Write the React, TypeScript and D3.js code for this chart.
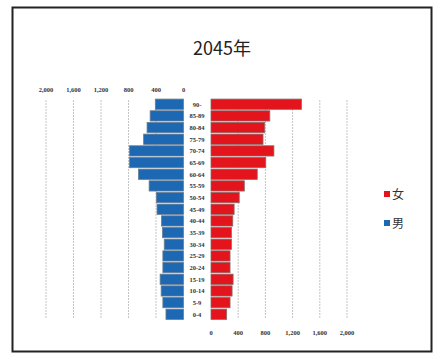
import React from "react";
import * as d3 from "d3";

const ages = ["90-", "85-89", "80-84", "75-79", "70-74", "65-69", "60-64", "55-59", "50-54", "45-49", "40-44", "35-39", "30-34", "25-29", "20-24", "15-19", "10-14", "5-9", "0-4"];
const male = [410, 485, 530, 580, 785, 785, 655, 500, 395, 385, 320, 305, 280, 300, 300, 340, 325, 300, 255];
const female = [1330, 865, 790, 765, 925, 805, 680, 490, 415, 340, 320, 300, 300, 280, 280, 325, 310, 280, 230];
const ticks = [0, 400, 800, 1200, 1600, 2000];
const title = "2045年";
const legendLabels = ["女", "男"];

const BLUE = "#1d68b2";
const RED = "#e3141c";

export default function App() {
  const W = 443, H = 354;
  const y = d3.scaleBand<string>().domain(ages).range([98.5, 320]).paddingInner(0.12).paddingOuter(0.05);
  const xL = d3.scaleLinear().domain([0, 2000]).range([183.5, 46]);
  const xR = d3.scaleLinear().domain([0, 2000]).range([211, 347]);
  const fmt = d3.format(",");
  const tickFont = "'Liberation Serif', 'DejaVu Serif', serif";
  return (
    <svg width={W} height={H} style={{ position: "absolute", left: 0, top: 0, background: "#fff" }}>
      <rect x={0} y={0} width={W} height={H} fill="#fff" />
      <rect x={12.5} y={7.5} width={419} height={344} fill="#fff" stroke="#222" strokeWidth={2} />
      <text x={222} y={55} textAnchor="middle" fontSize={18} fontFamily="'Noto Sans CJK JP', 'Noto Sans', sans-serif" fill="#222">{title}</text>
      {ticks.filter(t => t > 0).map(t => (
        <g key={"g" + t}>
          <line x1={xL(t)} x2={xL(t)} y1={100} y2={318} stroke="#c4c4c4" strokeWidth={1} strokeDasharray="2,1" />
          <line x1={xR(t)} x2={xR(t)} y1={100} y2={318} stroke="#c4c4c4" strokeWidth={1} strokeDasharray="2,1" />
        </g>
      ))}
      {ticks.map(t => (
        <text key={"tl" + t} x={xL(t)} y={92} textAnchor="middle" fontSize={6.5} fontWeight="bold" fontFamily={tickFont} fill="#333">{fmt(t)}</text>
      ))}
      {ticks.map(t => (
        <text key={"tr" + t} x={xR(t)} y={335} textAnchor="middle" fontSize={6.5} fontWeight="bold" fontFamily={tickFont} fill="#333">{fmt(t)}</text>
      ))}
      {ages.map((a, i) => (
        <g key={a}>
          <rect x={xL(male[i])} y={y(a)} width={xL(0) - xL(male[i])} height={y.bandwidth()} fill={BLUE} stroke="#6b7d90" strokeWidth={0.8} />
          <rect x={xR(0)} y={y(a)} width={xR(female[i]) - xR(0)} height={y.bandwidth()} fill={RED} stroke="#8a6a6a" strokeWidth={0.8} />
          <text x={197} y={(y(a) as number) + y.bandwidth() / 2 + 2.5} textAnchor="middle" fontSize={6.5} fontWeight="bold" fontFamily={tickFont} fill="#333">{a}</text>
        </g>
      ))}
      <rect x={384} y={191} width={6} height={6} fill={RED} />
      <text x={392} y={199} fontSize={12} fontFamily="'Noto Sans CJK JP', sans-serif" fill="#333">{legendLabels[0]}</text>
      <rect x={384} y={220} width={6} height={6} fill={BLUE} />
      <text x={392} y={228} fontSize={12} fontFamily="'Noto Sans CJK JP', sans-serif" fill="#333">{legendLabels[1]}</text>
    </svg>
  );
}
